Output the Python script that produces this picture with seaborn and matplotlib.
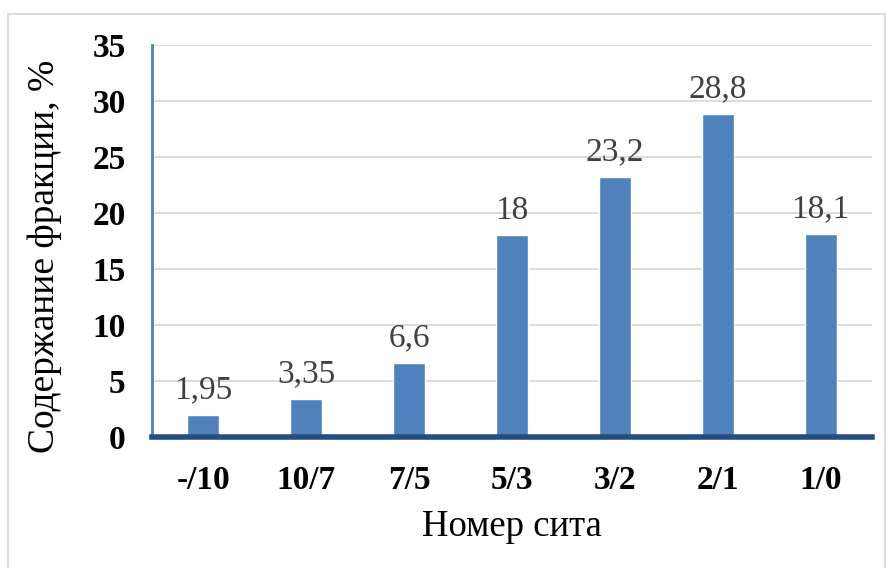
import matplotlib
matplotlib.use("Agg")
import matplotlib.pyplot as plt
import seaborn as sns
import pandas as pd
from matplotlib.patches import Rectangle

sieves = ["-/10", "10/7", "7/5", "5/3", "3/2", "2/1", "1/0"]
content = [1.95, 3.35, 6.6, 18, 23.2, 28.8, 18.1]
value_labels = ["1,95", "3,35", "6,6", "18", "23,2", "28,8", "18,1"]
y_ticks = [0, 5, 10, 15, 20, 25, 30, 35]

sns.set_style("white")
plt.rcParams['font.family'] = ['Liberation Serif', 'DejaVu Serif']

df = pd.DataFrame({"sieve": sieves, "content": content})

fig = plt.figure(figsize=(8.87, 5.68), dpi=100)
ax = fig.add_axes([152 / 887, 1 - 437 / 568, 720 / 887, 392 / 568])

sns.barplot(data=df, x="sieve", y="content", color="#4F81BD", saturation=1,
            width=0.31, ax=ax)

ax.set_ylim(0, 35)
ax.set_yticks(y_ticks)
ax.set_yticklabels([str(t) for t in y_ticks], fontsize=24, fontweight="bold", color="black")
ax.set_xticks(range(len(sieves)))
ax.set_xticklabels(sieves, fontsize=24, fontweight="bold", color="black")
ax.tick_params(axis="both", length=0)
ax.tick_params(axis="x", pad=20)
ax.tick_params(axis="y", pad=19)
ax.yaxis.grid(True, color="#D9D9D9", linewidth=1.3)
ax.set_axisbelow(True)

for s in ["top", "right"]:
    ax.spines[s].set_visible(False)
ax.spines["left"].set_color("#4F81BD")
ax.spines["left"].set_linewidth(2)
ax.spines["bottom"].set_color("#254E80")
ax.spines["bottom"].set_linewidth(4)

for i, (v, lab) in enumerate(zip(content, value_labels)):
    ax.annotate(lab, (i, v), xytext=(0, 7), textcoords="offset points",
                ha="center", va="bottom", fontsize=24, color="#404040")

ax.set_xlabel("Номер сита", fontsize=26.5, color="black")
ax.set_ylabel("Содержание фракции, %", fontsize=27, color="black")
ax.xaxis.set_label_coords(0.5, -0.185)
ax.yaxis.set_label_coords(-0.125, 0.46)

fig.patches.append(Rectangle((8 / 887, -0.01), 877 / 887, 1 - 14 / 568 + 0.01,
                             transform=fig.transFigure, fill=False,
                             edgecolor="#D9D9D9", linewidth=1.3))

fig.savefig("out.png", dpi=100)
plt.close(fig)
